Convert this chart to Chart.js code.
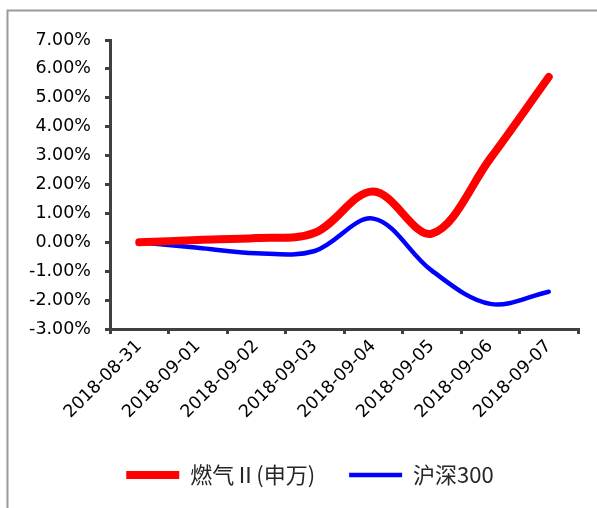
<!DOCTYPE html>
<html>
<head>
<meta charset="utf-8">
<script src="https://cdn.jsdelivr.net/npm/chart.js@4"></script>
<style>
  html, body { margin: 0; padding: 0; background: #fff; }
  #wrap { width: 597px; height: 508px; }
</style>
</head>
<body>
<div id="wrap"><canvas id="myChart" width="597" height="508"></canvas></div>
<script>
const categories = ['2018-08-31', '2018-09-01', '2018-09-02', '2018-09-03', '2018-09-04', '2018-09-05', '2018-09-06', '2018-09-07'];
const gasValues = [0.00, 0.08, 0.15, 0.33, 1.76, 0.30, 2.90, 5.72];
const hs300Values = [0.00, -0.19, -0.38, -0.30, 0.82, -0.98, -2.13, -1.71];
const seriesNames = ['燃气Ⅱ(申万)', '沪深300'];
const yTicks = [-3, -2, -1, 0, 1, 2, 3, 4, 5, 6, 7];

const tickFont = { family: 'DejaVu Sans', size: 17.5 };

// grey frame round the picture, and nudge the legend to where it sits in the original
const framePlugin = {
  id: 'frame',
  afterLayout(chart) {
    const lg = chart.legend;
    lg.top -= 12; lg.bottom -= 12;
    lg.left += 21; lg.right += 21;
  },
  beforeDraw(chart) {
    const c = chart.ctx;
    c.save();
    c.fillStyle = '#fff';
    c.fillRect(0, 0, chart.width, chart.height);
    c.strokeStyle = '#9a9a9a';
    c.lineWidth = 2;
    c.beginPath();
    c.moveTo(chart.width, 10.5);
    c.lineTo(7.5, 10.5);
    c.lineTo(7.5, chart.height);
    c.stroke();
    c.restore();
  }
};

const ctx = document.getElementById('myChart');

new Chart(ctx.getContext('2d'), {
  type: 'line',
  data: {
    labels: categories,
    datasets: [{
      label: seriesNames[0],
      data: gasValues,
      borderColor: '#ff0000',
      backgroundColor: '#ff0000',
      borderWidth: 8,
      borderCapStyle: 'round',
      borderJoinStyle: 'round',
      pointRadius: 0,
      tension: 0.35
    }, {
      label: seriesNames[1],
      data: hs300Values,
      borderColor: '#0000ff',
      backgroundColor: '#0000ff',
      borderWidth: 4.5,
      borderCapStyle: 'round',
      borderJoinStyle: 'round',
      pointRadius: 0,
      tension: 0.35
    }]
  },
  options: {
    responsive: false,
    animation: false,
    layout: {
      padding: { left: 0, right: 19, top: 40, bottom: 0 }
    },
    plugins: {
      tooltip: { enabled: false },
      legend: {
        position: 'bottom',
        labels: {
          usePointStyle: true,
          pointStyle: 'line',
          pointStyleWidth: 53,
          padding: 34,
          color: '#262626',
          font: { family: 'Noto Sans CJK SC', size: 22 }
        }
      }
    },
    scales: {
      x: {
        offset: true,
        grid: {
          offset: true,
          drawOnChartArea: false,
          drawTicks: true,
          tickLength: 5,
          color: '#404040',
          lineWidth: 3
        },
        border: { color: '#404040', width: 3 },
        ticks: {
          autoSkip: false,
          minRotation: 45,
          maxRotation: 45,
          color: '#000',
          font: tickFont,
          padding: 2
        },
        afterFit(scale) { scale.height = 113; }
      },
      y: {
        min: -3,
        max: 7,
        afterBuildTicks(scale) { scale.ticks = yTicks.map(v => ({ value: v })); },
        grid: {
          drawOnChartArea: false,
          drawTicks: true,
          tickLength: 5,
          color: '#404040',
          lineWidth: 3
        },
        border: { color: '#404040', width: 3 },
        ticks: {
          color: '#000',
          font: tickFont,
          padding: 14,
          callback: v => v.toFixed(2) + '%'
        },
        afterFit(scale) { scale.width = 110; }
      }
    }
  },
  plugins: [framePlugin]
});
</script>
</body>
</html>
